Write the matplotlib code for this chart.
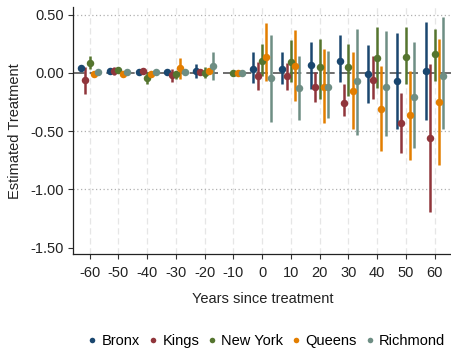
import numpy as np
import matplotlib
matplotlib.use("Agg")
import matplotlib.pyplot as plt
from matplotlib.lines import Line2D

nan = np.nan
years = [-60, -50, -40, -30, -20, -10, 0, 10, 20, 30, 40, 50, 60]
series = ["Bronx", "Kings", "New York", "Queens", "Richmond"]
colors = ["#1a476f", "#90353b", "#55752f", "#e37e00", "#6e8e84"]
offsets = [-3, -1.5, 0, 1.5, 3]

bronx = [0.04, 0.02, 0.01, 0.005, 0.02, nan, 0.035, 0.037, 0.07, 0.107, -0.01, -0.067, 0.017]
bronx_lo = [0.02, 0.0, -0.01, -0.01, -0.04, nan, -0.09, -0.095, -0.14, -0.08, -0.26, -0.485, -0.40]
bronx_hi = [0.06, 0.04, 0.03, 0.02, 0.08, nan, 0.18, 0.18, 0.265, 0.33, 0.236, 0.34, 0.44]

kings = [-0.06, 0.02, 0.02, -0.02, 0.01, nan, -0.03, -0.03, -0.12, -0.255, -0.06, -0.43, -0.56]
kings_lo = [-0.18, -0.02, 0.0, -0.08, -0.01, nan, -0.15, -0.15, -0.25, -0.37, -0.22, -0.69, -1.19]
kings_hi = [0.05, 0.055, 0.04, 0.035, 0.03, nan, 0.09, 0.083, 0.005, -0.095, 0.15, -0.17, 0.08]

new_york = [0.085, 0.025, -0.04, -0.01, 0.0, 0.0, 0.1, 0.098, 0.055, 0.055, 0.13, 0.14, 0.16]
new_york_lo = [0.03, 0.0, -0.095, -0.05, -0.04, 0.0, -0.03, -0.08, -0.22, -0.2, -0.125, -0.095, -0.067]
new_york_hi = [0.15, 0.05, 0.005, 0.02, 0.05, 0.0, 0.245, 0.28, 0.29, 0.25, 0.395, 0.395, 0.38]

queens = [-0.01, -0.01, -0.01, 0.045, 0.015, 0.0, 0.14, 0.063, -0.12, -0.153, -0.307, -0.364, -0.246]
queens_lo = [-0.03, -0.03, -0.03, -0.05, -0.01, 0.0, -0.07, -0.24, -0.43, -0.485, -0.67, -0.745, -0.79]
queens_hi = [0.01, 0.01, 0.01, 0.13, 0.04, 0.0, 0.43, 0.37, 0.21, 0.18, 0.063, 0.02, 0.295]

richmond = [0.005, 0.01, 0.01, 0.01, 0.057, 0.0, -0.047, -0.125, -0.12, -0.067, -0.12, -0.21, -0.023]
richmond_lo = [-0.01, -0.01, -0.01, -0.01, -0.06, 0.0, -0.42, -0.4, -0.39, -0.53, -0.54, -0.645, -0.485]
richmond_hi = [0.02, 0.03, 0.03, 0.03, 0.18, 0.0, 0.33, 0.15, 0.19, 0.38, 0.36, 0.265, 0.48]

est = [bronx, kings, new_york, queens, richmond]
lo = [bronx_lo, kings_lo, new_york_lo, queens_lo, richmond_lo]
hi = [bronx_hi, kings_hi, new_york_hi, queens_hi, richmond_hi]

yticks = [0.5, 0.0, -0.5, -1.0, -1.5]
ytick_labels = ["0.50", "0.00", "-0.50", "-1.00", "-1.50"]

plt.rcParams['font.family'] = ['Liberation Sans', 'DejaVu Sans']
FS = 10.5
W, H = 452, 348
fig = plt.figure(figsize=(W / 100, H / 100), dpi=100)
ax = fig.add_axes([73 / W, 1 - 254 / H, (451.5 - 73) / W, (254 - 6.7) / H])

ax.set_xlim(-65.8, 65.9)
ax.set_ylim(-1.554, 0.569)

for xv in years:
    ax.axvline(xv, color="#e6e6e6", lw=0.9, ls=(0, (5, 3)), zorder=0)
for yv in [0.5, -0.5, -1.0]:
    ax.axhline(yv, color="#b0b0b0", lw=0.9, ls=(0, (1, 2)), zorder=0)
ax.axhline(0, color="#555555", lw=1.2, ls=(0, (7, 3)), zorder=1)

for i, name in enumerate(series):
    xs = np.array(years, dtype=float) + offsets[i]
    e = np.array(est[i]); l = np.array(lo[i]); h = np.array(hi[i])
    ok = ~np.isnan(e)
    ax.vlines(xs[ok], l[ok], h[ok], color=colors[i], lw=1.8, zorder=2)
    ax.plot(xs[ok], e[ok], "o", color=colors[i], ms=5.4, mew=0, zorder=3)

ax.set_xticks(years)
ax.set_xticklabels([str(y) for y in years], fontsize=FS, color="#222222")
ax.set_yticks(yticks)
ax.set_yticklabels(ytick_labels, fontsize=FS, color="#222222")
ax.tick_params(axis="both", length=3.5, width=0.8, color="#333333", pad=3)
ax.tick_params(axis="x", pad=5)
for s in ["top", "right"]:
    ax.spines[s].set_visible(False)
for s in ["left", "bottom"]:
    ax.spines[s].set_color("#222222")
    ax.spines[s].set_linewidth(0.9)

fig.text(15 / W, 1 - 131 / H, "Estimated Treatment", rotation=90, ha="center", va="center",
         fontsize=FS, color="#222222")
fig.text(262.5 / W, 1 - 299 / H, "Years since treatment", ha="center", va="center",
         fontsize=FS, color="#222222")

handles = [Line2D([], [], marker="o", ls="none", color=c, ms=4, mew=0) for c in colors]
fig.legend(handles, series, loc="center", bbox_to_anchor=(267 / W, 1 - 341 / H), ncol=5,
           frameon=False, fontsize=FS, handlelength=0.5, handletextpad=0.4,
           columnspacing=0.62, borderpad=0, borderaxespad=0)

fig.savefig("out.png", dpi=100)
